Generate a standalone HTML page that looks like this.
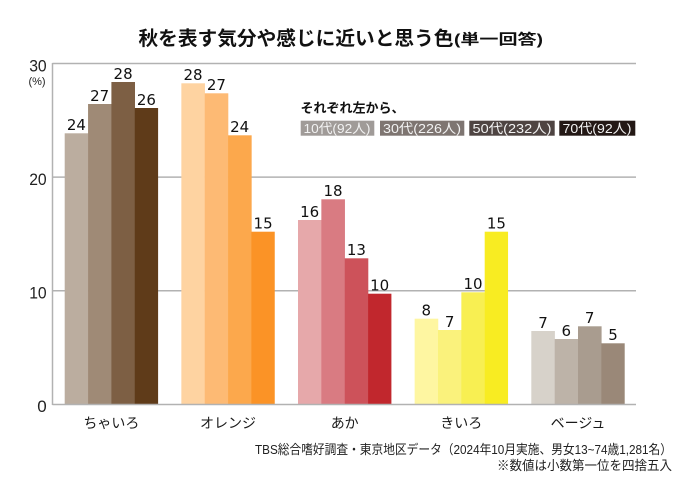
<!DOCTYPE html>
<html><head><meta charset="utf-8">
<style>
html,body{margin:0;padding:0;background:#fff;}
svg{display:block;}
</style></head>
<body>
<svg width="680" height="482" viewBox="0 0 680 482" xmlns="http://www.w3.org/2000/svg">
<rect width="680" height="482" fill="#fff"/>
<!-- title -->
<text x="138.5" y="45" font-family="'Liberation Sans','Noto Sans CJK JP',sans-serif" font-weight="bold" font-size="19.5" fill="#111" textLength="315" lengthAdjust="spacingAndGlyphs">秋を表す気分や感じに近いと思う色</text>
<text x="454" y="44.5" font-family="'Liberation Sans','Noto Sans CJK JP',sans-serif" font-weight="bold" font-size="14.5" fill="#111" textLength="89" lengthAdjust="spacingAndGlyphs">(単一回答)</text>

<!-- gridlines -->
<g stroke="#b2b2b2" stroke-width="1.5" fill="none">
<line x1="52.5" y1="63.5" x2="636" y2="63.5"/>
<line x1="52.5" y1="177.1" x2="636" y2="177.1"/>
<line x1="52.5" y1="290.7" x2="636" y2="290.7"/>
<line x1="52.5" y1="63" x2="52.5" y2="405"/>
</g>

<!-- y labels -->
<g font-family="'Liberation Sans',sans-serif" font-size="17" fill="#222" text-anchor="end">
<text x="46.7" y="71.5" textLength="17.5" lengthAdjust="spacingAndGlyphs">30</text>
<text x="46.7" y="184.8" textLength="17.5" lengthAdjust="spacingAndGlyphs">20</text>
<text x="46.7" y="298.3" textLength="17.5" lengthAdjust="spacingAndGlyphs">10</text>
<text x="46.7" y="412">0</text>
</g>
<text x="37" y="85" font-family="'Liberation Sans',sans-serif" font-size="11" fill="#222" text-anchor="middle">(%)</text>

<!-- bars -->
<g>
<!-- chairo -->
<rect x="64.7" y="133.3" width="23.6" height="271" fill="#bbad9f"/>
<rect x="88.05" y="104" width="23.6" height="300.3" fill="#9f8a76"/>
<rect x="111.4" y="82" width="23.6" height="322.3" fill="#7d5f44"/>
<rect x="134.75" y="108" width="23.35" height="296.3" fill="#5f3b19"/>
<!-- orange -->
<rect x="181.35" y="83.3" width="23.6" height="321" fill="#fed3a1"/>
<rect x="204.7" y="93.3" width="23.6" height="311" fill="#fdba74"/>
<rect x="228.05" y="135.3" width="23.6" height="269" fill="#fca84c"/>
<rect x="251.4" y="231.7" width="23.35" height="172.6" fill="#fb9326"/>
<!-- aka -->
<rect x="298" y="220" width="23.6" height="184.3" fill="#e6a8aa"/>
<rect x="321.35" y="199.3" width="23.6" height="205" fill="#d97b82"/>
<rect x="344.7" y="258.3" width="23.6" height="146" fill="#cd525a"/>
<rect x="368.05" y="293.7" width="23.35" height="110.6" fill="#c1272d"/>
<!-- kiiro -->
<rect x="414.65" y="318.7" width="23.6" height="85.6" fill="#fef6a1"/>
<rect x="438" y="330" width="23.6" height="74.3" fill="#faf27c"/>
<rect x="461.35" y="292.3" width="23.6" height="112" fill="#f8ef52"/>
<rect x="484.7" y="231.7" width="23.35" height="172.6" fill="#f8ec22"/>
<!-- beige -->
<rect x="531.3" y="331" width="23.6" height="73.3" fill="#d7d2ca"/>
<rect x="554.65" y="339" width="23.6" height="65.3" fill="#bdb3a8"/>
<rect x="578" y="326.3" width="23.6" height="78" fill="#a99c8f"/>
<rect x="601.35" y="343.3" width="23.35" height="61" fill="#9a8878"/>
</g>

<line x1="52.5" y1="404.5" x2="636" y2="404.5" stroke="#b2b2b2" stroke-width="1.5"/>

<!-- value labels -->
<g font-family="'DejaVu Sans','Liberation Sans',sans-serif" font-size="15" fill="#111" text-anchor="middle">
<text x="76.4" y="130">24</text>
<text x="99.7" y="100.8">27</text>
<text x="123.1" y="78.8">28</text>
<text x="146.4" y="104.8">26</text>
<text x="193" y="80.1">28</text>
<text x="216.4" y="90.1">27</text>
<text x="239.7" y="132.1">24</text>
<text x="263.1" y="228.5">15</text>
<text x="309.7" y="216.8">16</text>
<text x="333" y="196.1">18</text>
<text x="356.4" y="255.1">13</text>
<text x="379.7" y="290.5">10</text>
<text x="426.3" y="315.5">8</text>
<text x="449.7" y="326.8">7</text>
<text x="473" y="289.1">10</text>
<text x="496.4" y="228.5">15</text>
<text x="543" y="327.8">7</text>
<text x="566.3" y="335.8">6</text>
<text x="589.7" y="323.1">7</text>
<text x="613" y="340.1">5</text>
</g>

<!-- legend -->
<text x="300.5" y="112.5" font-family="'Liberation Sans','Noto Sans CJK JP',sans-serif" font-weight="bold" font-size="13" fill="#111" textLength="104" lengthAdjust="spacingAndGlyphs">それぞれ左から、</text>
<rect x="300.7" y="120.7" width="73.6" height="15" fill="#a09b98"/>
<rect x="380" y="120.7" width="84.3" height="15" fill="#7e7571"/>
<rect x="469.3" y="120.7" width="85.4" height="15" fill="#4e4442"/>
<rect x="559.3" y="120.7" width="76" height="15" fill="#231815"/>
<g font-family="'Liberation Sans','Noto Sans CJK JP',sans-serif" font-size="13" fill="#f2f2f2">
<text x="303.5" y="133" textLength="67" lengthAdjust="spacingAndGlyphs">10代(92人)</text>
<text x="383" y="133" textLength="78" lengthAdjust="spacingAndGlyphs">30代(226人)</text>
<text x="472.5" y="133" textLength="79" lengthAdjust="spacingAndGlyphs">50代(232人)</text>
<text x="562.5" y="133" textLength="69" lengthAdjust="spacingAndGlyphs">70代(92人)</text>
</g>

<!-- category labels -->
<g font-family="'Liberation Sans','Noto Sans CJK JP',sans-serif" font-size="14" fill="#1a1a1a" text-anchor="middle">
<text x="111.4" y="428">ちゃいろ</text>
<text x="228" y="428">オレンジ</text>
<text x="344.7" y="428">あか</text>
<text x="461.3" y="428">きいろ</text>
<text x="578" y="428">ベージュ</text>
</g>

<!-- footer -->
<g font-family="'Liberation Sans','Noto Sans CJK JP',sans-serif" font-size="13" fill="#222" text-anchor="end">
<text x="672" y="454" textLength="417" lengthAdjust="spacingAndGlyphs">TBS総合嗜好調査・東京地区データ（2024年10月実施、男女13~74歳1,281名）</text>
<text x="672" y="470" textLength="175" lengthAdjust="spacingAndGlyphs">※数値は小数第一位を四捨五入</text>
</g>
</svg>
</body></html>
